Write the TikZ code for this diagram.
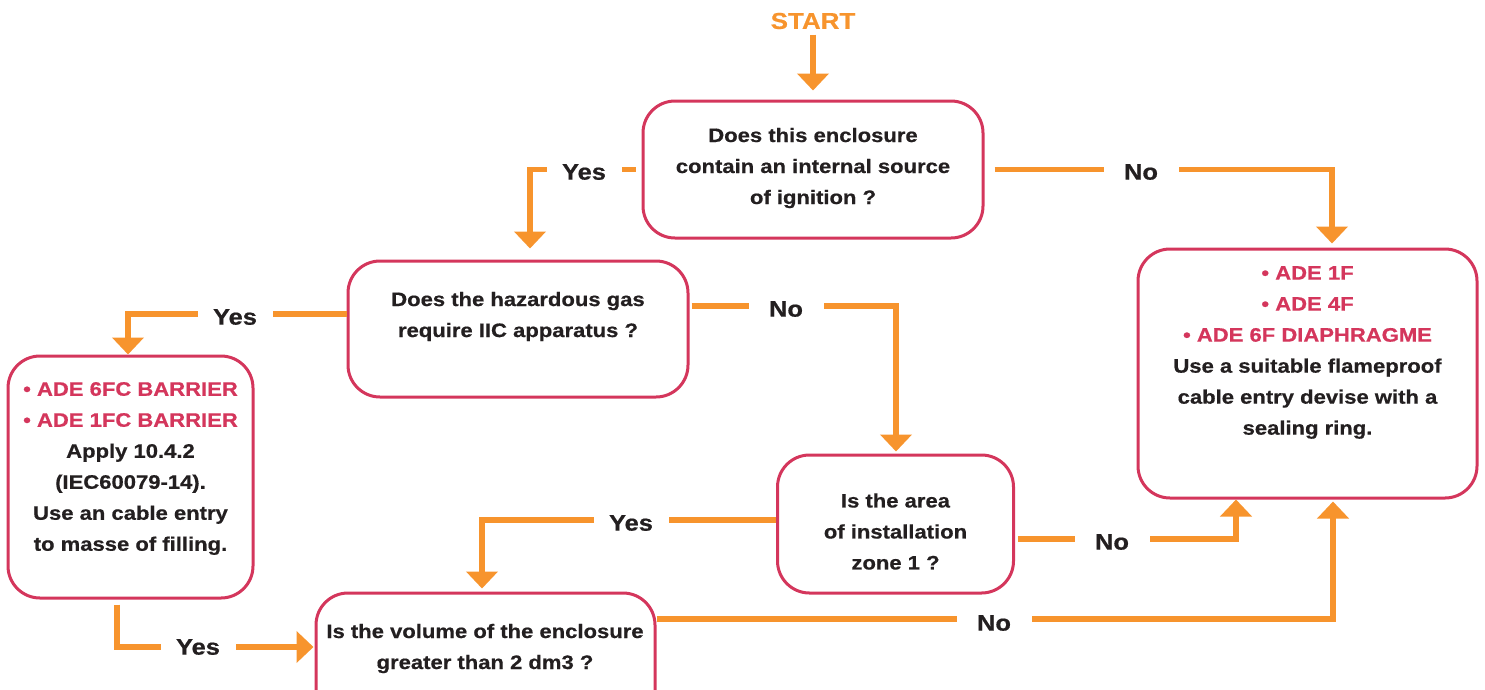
\documentclass[tikz,border=0pt]{standalone}
\usepackage{fontspec}
\setmainfont{Liberation Sans}[FakeStretch=1.13, BoldFeatures={FakeBold=0.6}]
\usepackage{tikz}
\usetikzlibrary{arrows.meta,positioning}

\definecolor{flowOrange}{RGB}{247,148,45}
\definecolor{boxRed}{RGB}{212,54,92}
\definecolor{inkGray}{RGB}{35,31,32}

\tikzset{
  box/.style={draw=boxRed, line width=3pt, rounded corners=32pt, fill=white},
  txt/.style={align=center, text=inkGray, font=\bfseries\fontsize{19.5}{31}\selectfont},
  lbl/.style={fill=white, text=inkGray, minimum width=75pt, inner xsep=0pt, inner ysep=2pt,
    font=\bfseries\fontsize{22.5}{27}\selectfont},
  flow/.style={draw=flowOrange, line width=5.5pt, -{Triangle[width=31pt,length=17pt]}}
}
\newcommand{\ade}[1]{\textcolor{boxRed}{\textbullet\ #1}}

\begin{document}
\begin{tikzpicture}[x=1pt,y=-1pt]
\useasboundingbox (0,0) rectangle (1485,689);
\clip (0,0) rectangle (1485,689);

% boxes
\node[box, minimum width=340pt, minimum height=137pt] (q1) at (813,169.5) {};
\node[box, minimum width=340pt, minimum height=136pt] (q2) at (518,329) {};
\node[box, minimum width=245pt, minimum height=242pt] (res1) at (130.5,477) {};
\node[box, minimum width=236pt, minimum height=138pt] (q3) at (895.5,524) {};
\node[box, minimum width=339pt, minimum height=137pt] (q4) at (485.5,661.5) {};
\node[box, minimum width=339pt, minimum height=249pt] (res2) at (1307.5,373.5) {};

% texts
\node[text=flowOrange, font=\bfseries\fontsize{23}{27}\selectfont] (start) at (813,21) {START};
\node[txt] (q1text) at (813,168) {Does this enclosure\\contain an internal source\\of ignition ?};
\node[txt] (q2text) at (518,316.5) {Does the hazardous gas\\require IIC apparatus ?};
\node[txt] (res1text) at (130.5,468.5) {\ade{ADE 6FC BARRIER}\\\ade{ADE 1FC BARRIER}\\Apply 10.4.2\\(IEC60079-14).\\Use an cable entry\\to masse of filling.};
\node[txt] (q3text) at (895.5,531.5) {Is the area\\of installation\\zone 1 ?};
\node[txt] (q4text) at (485,648.5) {Is the volume of the enclosure\\greater than 2 dm3 ?};
\node[txt] (res2text) at (1307.5,352.5) {\ade{ADE 1F}\\\ade{ADE 4F}\\\ade{ADE 6F DIAPHRAGME}\\Use a suitable flameproof\\cable entry devise with a\\sealing ring.};

% connectors
\draw[flow, shorten <=2pt, shorten >=9pt] (start) -- (q1);
\draw[flow, shorten <=6pt, shorten >=11pt] (q1.west) -| ([xshift=12pt]q2.north);
\draw[flow, shorten <=10pt, shorten >=4pt] (q1.east) -| ([xshift=24.5pt]res2.north);
\draw[flow] ([yshift=15pt]q2.west) -| ([xshift=-2.5pt]res1.north);
\draw[flow, shorten <=2pt, shorten >=2pt] ([yshift=23pt]q2.east) -| ([xshift=0.5pt]q3.north);
\draw[flow, shorten >=3pt] ([yshift=4pt]q3.west) -| ([xshift=-3.5pt]q4.north);
\draw[flow, shorten <=3pt] ([yshift=-15pt]q3.east) -| ([xshift=-71.5pt]res2.south);
\draw[flow, shorten >=2pt] ([yshift=42.5pt]q4.east) -| ([xshift=25.5pt]res2.south);
\draw[flow, shorten <=5pt, shorten >=1pt] ([xshift=-13.5pt]res1.south) |- ([yshift=14.5pt]q4.west);

% labels
\node[lbl] (yes1) at (584,172) {Yes};
\node[lbl] (no1) at (1141,172) {No};
\node[lbl] (yes2) at (235,317) {Yes};
\node[lbl] (no2) at (786,309) {No};
\node[lbl] (yes3) at (631,523) {Yes};
\node[lbl] (no3) at (1112,542) {No};
\node[lbl] (no4) at (994,623) {No};
\node[lbl] (yes4) at (198,647) {Yes};

\end{tikzpicture}
\end{document}
